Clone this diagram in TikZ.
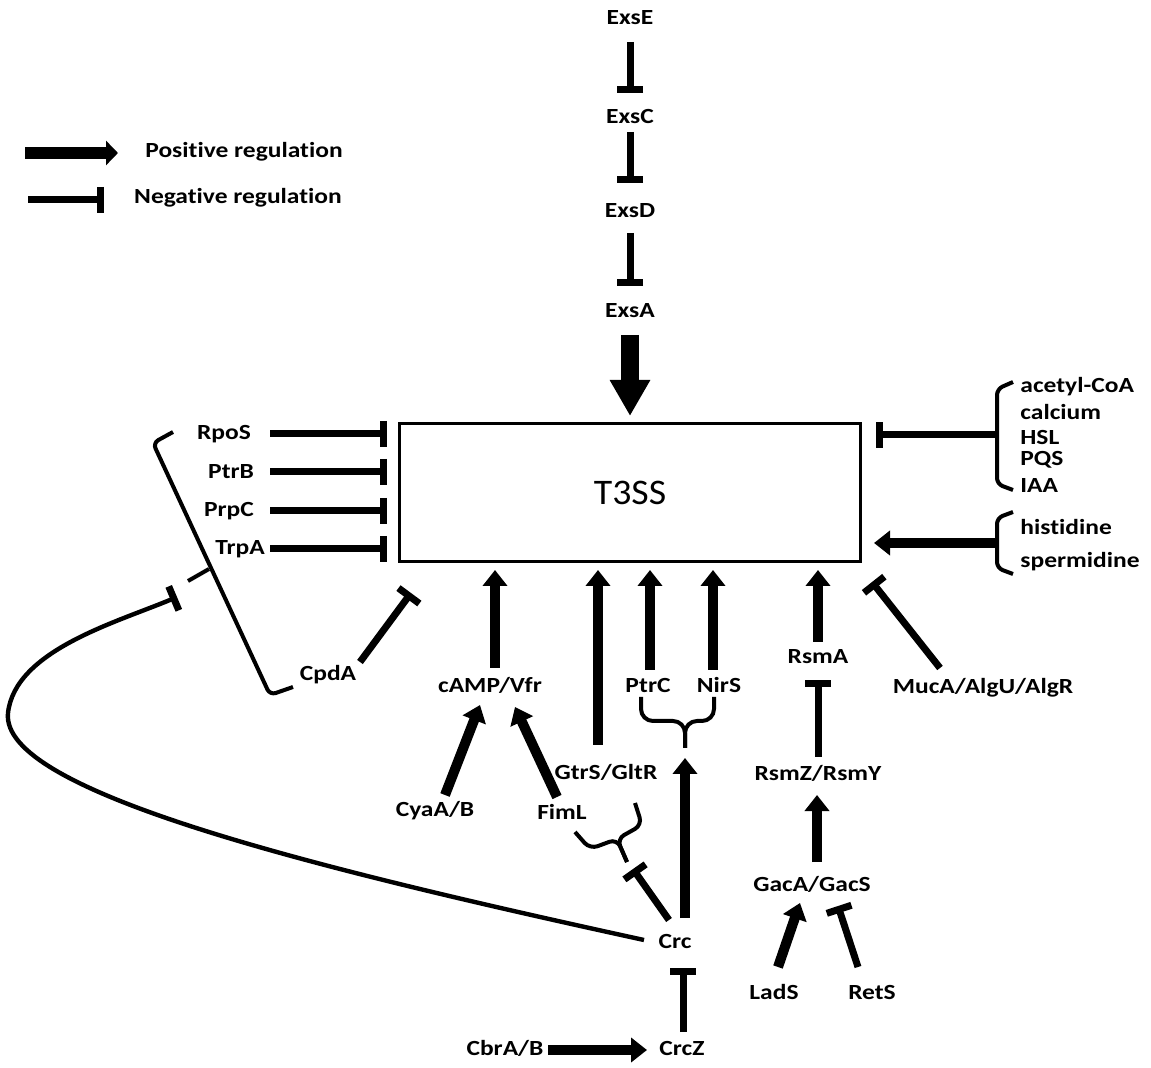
\documentclass[tikz,border=0pt]{standalone}
\usepackage{fontspec}
\setmainfont{Carlito}[FakeStretch=1.18, Ligatures=CommonOff]
\newfontfamily\boxfont{Carlito}[FakeStretch=1.05]
\usetikzlibrary{arrows.meta, calc, positioning}

\begin{document}
\begin{tikzpicture}[x=0.5pt, y=-0.5pt]
  \tikzstyle{lbl} = [font=\bfseries\fontsize{10.8}{12}\selectfont, inner sep=0pt]
  \tikzstyle{boxNode} = [rectangle, draw=black, line width=1.5pt, minimum width=230.5pt, minimum height=69pt, font=\boxfont\fontsize{18}{20}\selectfont]
  \tikzstyle{act} = [draw=black, line width=5pt, -{Triangle[width=12pt, length=8pt]}]
  \tikzstyle{bigAct} = [draw=black, line width=9pt, -{Triangle[width=19pt, length=18pt]}]
  \tikzstyle{inh} = [draw=black, line width=3.5pt, -{Bar[width=13pt, line width=3.5pt]}]
  \tikzstyle{brk} = [draw=black, line width=2pt, rounded corners=3pt]

  \useasboundingbox (0,0) rectangle (1151,1068);

  % legend
  \coordinate (posA) at (25,153);
  \coordinate (posB) at (118,153);
  \coordinate (negA) at (28,200);
  \coordinate (negB) at (104,200);
  \node [lbl] (posT) at (244,152) {Positive regulation};
  \node [lbl] (negT) at (238,198) {Negative regulation};
  \draw [act, line width=6pt, -{Triangle[width=12pt, length=6pt]}] (posA) -- (posB);
  \draw [inh] (negA) -- (negB);

  % central box and Exs cascade
  \node [boxNode] (T3SS) at (630,492.5) {T3SS};
  \node [lbl] (ExsE) at (630,18) {ExsE};
  \node [lbl] (ExsC) at (630,117) {ExsC};
  \node [lbl] (ExsD) at (630,211) {ExsD};
  \node [lbl] (ExsA) at (630,311) {ExsA};

  \draw [inh] ($(ExsE)+(0,24)$) -- ($(ExsC)+(0,-24)$);
  \draw [inh] ($(ExsC)+(0,15)$) -- ($(ExsD)+(0,-28)$);
  \draw [inh] ($(ExsD)+(0,22)$) -- ($(ExsA)+(0,-25)$);
  \draw [bigAct] ($(ExsA)+(0,24)$) -- ($(ExsA |- T3SS.north)+(0,-6)$);

  % left side repressors
  \node [lbl] (RpoS) at (224,434) {RpoS};
  \node [lbl] (PtrB) at (231,472) {PtrB};
  \node [lbl] (PrpC) at (229,511) {PrpC};
  \node [lbl] (TrpA) at (240,549) {TrpA};
  \node [lbl] (CpdA) at (328,675) {CpdA};
  \coordinate (leftX) at (270,0);
  \coordinate (lbTip) at (188,581);

  \foreach \g in {RpoS, PtrB, PrpC, TrpA}
    \draw [inh] (\g -| leftX) -- ($(\g -| T3SS.west)+(-11,0)$);
  \draw [inh] ($(CpdA)+(32,-13)$) -- ($(T3SS.south west)+(13,30)$);

  % bracket round the left repressors
  \draw [brk] (173,432) -- (153,443) -- (270,695) -- (293,687);
  \draw [brk] (209,569) -- (lbTip);

  % bottom activators
  \node [lbl] (cAMP) at (490,685) {cAMP/Vfr};
  \node [lbl] (CyaA) at (435,811) {CyaA/B};
  \node [lbl] (FimL) at (562,812) {FimL};
  \node [lbl] (GtrS) at (606,772) {GtrS/GltR};
  \node [lbl] (PtrC) at (648,685) {PtrC};
  \node [lbl] (NirS) at (719,685) {NirS};
  \node [lbl] (Crc) at (675,941) {Crc};
  \node [lbl] (CrcZ) at (682,1048) {CrcZ};
  \node [lbl] (CbrA) at (505,1048) {CbrA/B};
  \coordinate (ptTip) at (685,748);
  \coordinate (fbTip) at (627,862);

  \draw [act] ($(cAMP)+(5,-17)$) -- ($(cAMP |- T3SS.south)+(5,7)$);
  \draw [act] ($(CyaA)+(10,-16)$) -- ($(cAMP)+(-10,20)$);
  \draw [act] ($(FimL)+(-5,-15)$) -- ($(cAMP)+(25,22)$);
  \draw [act] ($(GtrS)+(-8,-27)$) -- ($(GtrS |- T3SS.south)+(-8,7)$);
  \draw [act] ($(PtrC)+(2,-15)$) -- ($(PtrC |- T3SS.south)+(2,7)$);
  \draw [act] ($(NirS)+(-6,-15)$) -- ($(NirS |- T3SS.south)+(-6,7)$);

  % braces under PtrC/NirS and FimL/GtrS
  \draw [brk, rounded corners=6pt] (641,697) -- (641,721) -- (685,721) -- (ptTip);
  \draw [brk, rounded corners=6pt] (714,697) -- (714,721) -- (685,721) -- (ptTip);
  \draw [brk, rounded corners=4pt] (575,832) -- (590,849) -- (617,839) -- (fbTip);
  \draw [brk, rounded corners=4pt] (635,803) -- (642,825) -- (617,839) -- (fbTip);

  % Crc and its regulators
  \draw [act] ($(Crc)+(10,-23)$) -- ($(ptTip)+(0,10)$);
  \draw [inh] ($(Crc)+(-6,-21)$) -- ($(fbTip)+(6,7)$);
  \draw [inh, line width=2.2pt, -{Bar[width=13pt, line width=3.5pt]}] ($(Crc)+(-31,-1)$)
    .. controls (300,865) and (0,790) .. (8,713)
    .. controls (15,650) and (118,622) .. ($(lbTip)+(-11,16)$);
  \draw [inh] ($(CrcZ)+(1,-16)$) -- ($(Crc)+(8,27)$);
  \draw [act] ($(CbrA)+(43,2)$) -- ($(CrcZ)+(-35,2)$);

  % Rsm / Gac branch
  \node [lbl] (RsmA) at (818,657) {RsmA};
  \node [lbl] (RsmZ) at (818,773) {RsmZ/RsmY};
  \node [lbl] (GacA) at (812,884) {GacA/GacS};
  \node [lbl] (LadS) at (774,992) {LadS};
  \node [lbl] (RetS) at (872,992) {RetS};
  \node [lbl] (MucA) at (983,688) {MucA/AlgU/AlgR};

  \draw [act] ($(RsmA)+(0,-15)$) -- ($(RsmA |- T3SS.south)+(0,7)$);
  \draw [inh] ($(RsmZ)+(0,-16)$) -- ($(RsmA)+(0,23)$);
  \draw [act] ($(GacA)+(5,-22)$) -- ($(RsmZ)+(-1,22)$);
  \draw [act] ($(LadS)+(4,-25)$) -- ($(GacA)+(-12,19)$);
  \draw [inh] ($(RetS)+(-14,-25)$) -- ($(GacA)+(26,22)$);
  \draw [inh] ($(MucA)+(-43,-20)$) -- ($(T3SS.south east)+(10,19)$);

  % right side signals
  \node [lbl, anchor=west] (acCoA) at (1020,387) {acetyl-CoA};
  \node [lbl, anchor=west] (calc) at (1020,412) {calcium};
  \node [lbl, anchor=west] (HSL) at (1020,437) {HSL};
  \node [lbl, anchor=west] (PQS) at (1020,460) {PQS};
  \node [lbl, anchor=west] (IAA) at (1020,485) {IAA};
  \node [lbl, anchor=west] (hist) at (1020,527) {histidine};
  \node [lbl, anchor=west] (sperm) at (1020,562) {spermidine};
  \coordinate (rbTop) at (997,435);
  \coordinate (rbBot) at (997,543);

  \draw [brk] (1013,382) -- (997,389) -- (997,484) -- (1013,490);
  \draw [brk] (1013,512) -- (997,518) -- (997,568) -- (1013,574);
  \draw [inh] (rbTop) -- ($(rbTop -| T3SS.east)+(14,0)$);
  \draw [act] (rbBot) -- ($(rbBot -| T3SS.east)+(12,0)$);

\end{tikzpicture}
\end{document}
